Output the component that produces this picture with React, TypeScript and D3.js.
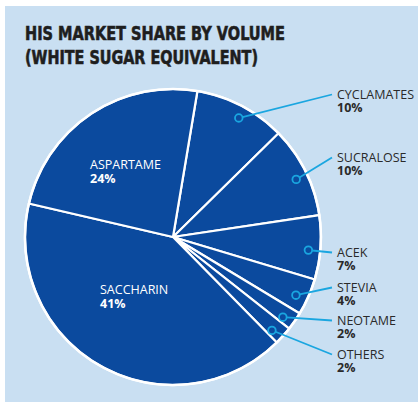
import React from "react";
import * as d3 from "d3";

const categories = ["CYCLAMATES", "SUCRALOSE", "ACEK", "STEVIA", "NEOTAME", "OTHERS", "SACCHARIN", "ASPARTAME"];
const shares = [10, 10, 7, 4, 2, 2, 41, 24];
const outsideLabels = ["CYCLAMATES", "SUCRALOSE", "ACEK", "STEVIA", "NEOTAME", "OTHERS"];
const titleLines = ["HIS MARKET SHARE BY VOLUME", "(WHITE SUGAR EQUIVALENT)"];

const W = 418, H = 402;
const cx = 173, cy = 237, R = 148;
const startDeg = 9.5;
const labelX = 337;
const labelBaseline: Record<string, number> = {
  CYCLAMATES: 99, SUCRALOSE: 162, ACEK: 257, STEVIA: 292, NEOTAME: 325, OTHERS: 359,
};
const insideLabelPos: Record<string, [number, number]> = {
  ASPARTAME: [90, 169], SACCHARIN: [100, 294],
};

const BG = "#c9dff2";
const PIE = "#0b4a9e";
const CYAN = "#1aa6e0";
const TEXT = "#2a2a2a";

export default function App() {
  const data = categories.map((c, i) => ({ name: c, value: shares[i] }));
  const start = (startDeg * Math.PI) / 180;
  const pie = d3.pie<any>().value((d) => d.value).sort(null).startAngle(start).endAngle(start + 2 * Math.PI);
  const arcs = pie(data);
  const arc = d3.arc<any>().innerRadius(0).outerRadius(R);
  const dotArc = d3.arc<any>().innerRadius(136).outerRadius(136);

  return (
    <svg width={W} height={H} style={{ position: "absolute", left: 0, top: 0 }}>
      <rect x={5} y={6} width={W - 5} height={H - 6} fill={BG} />
      {titleLines.map((t, i) => (
        <text key={i} x={25} y={40 + i * 24} fill="#1e1e1e" stroke="#1e1e1e" strokeWidth={0.6}
          fontFamily="'DejaVu Sans Condensed', 'DejaVu Sans', sans-serif"
          fontWeight={900} fontSize={19} textLength={i === 0 ? 260 : 233} lengthAdjust="spacingAndGlyphs">{t}</text>
      ))}
      <g transform={`translate(${cx},${cy})`}>
        {arcs.map((a, i) => (
          <path key={i} d={arc(a) as string} fill={PIE} stroke="#fff" strokeWidth={2.2} strokeLinejoin="round" />
        ))}
        <circle r={R} fill="none" stroke="#fff" strokeWidth={2.5} />
      </g>
      {arcs.filter((a) => outsideLabels.includes(a.data.name)).map((a, i) => {
        const mid = (a.startAngle + a.endAngle) / 2 + 0.025;
        const [dx, dy] = dotArc.centroid({ startAngle: mid, endAngle: mid });
        const px = cx + dx, py = cy + dy;
        const by = labelBaseline[a.data.name];
        const ex = labelX - 5, ey = by - 4.5;
        const ang = Math.atan2(ey - py, ex - px);
        return (
          <g key={i}>
            <line x1={px + 3.8 * Math.cos(ang)} y1={py + 3.8 * Math.sin(ang)} x2={ex} y2={ey} stroke={CYAN} strokeWidth={1.8} />
            <circle cx={px} cy={py} r={3.8} fill="none" stroke={CYAN} strokeWidth={1.8} />
            <text x={labelX} y={by} fill={TEXT} fontFamily="'Open Sans', sans-serif" fontSize={12.5}>{a.data.name}</text>
            <text x={labelX} y={by + 13} fill={TEXT} fontFamily="'Open Sans', sans-serif" fontSize={12.5} fontWeight={700}>{a.data.value}%</text>
          </g>
        );
      })}
      {arcs.filter((a) => insideLabelPos[a.data.name]).map((a, i) => {
        const [x, y] = insideLabelPos[a.data.name];
        return (
          <g key={i}>
            <text x={x} y={y} fill="#fff" fontFamily="'Open Sans', sans-serif" fontSize={12.5}>{a.data.name}</text>
            <text x={x} y={y + 13.5} fill="#fff" fontFamily="'Open Sans', sans-serif" fontSize={12.5} fontWeight={700}>{a.data.value}%</text>
          </g>
        );
      })}
    </svg>
  );
}
